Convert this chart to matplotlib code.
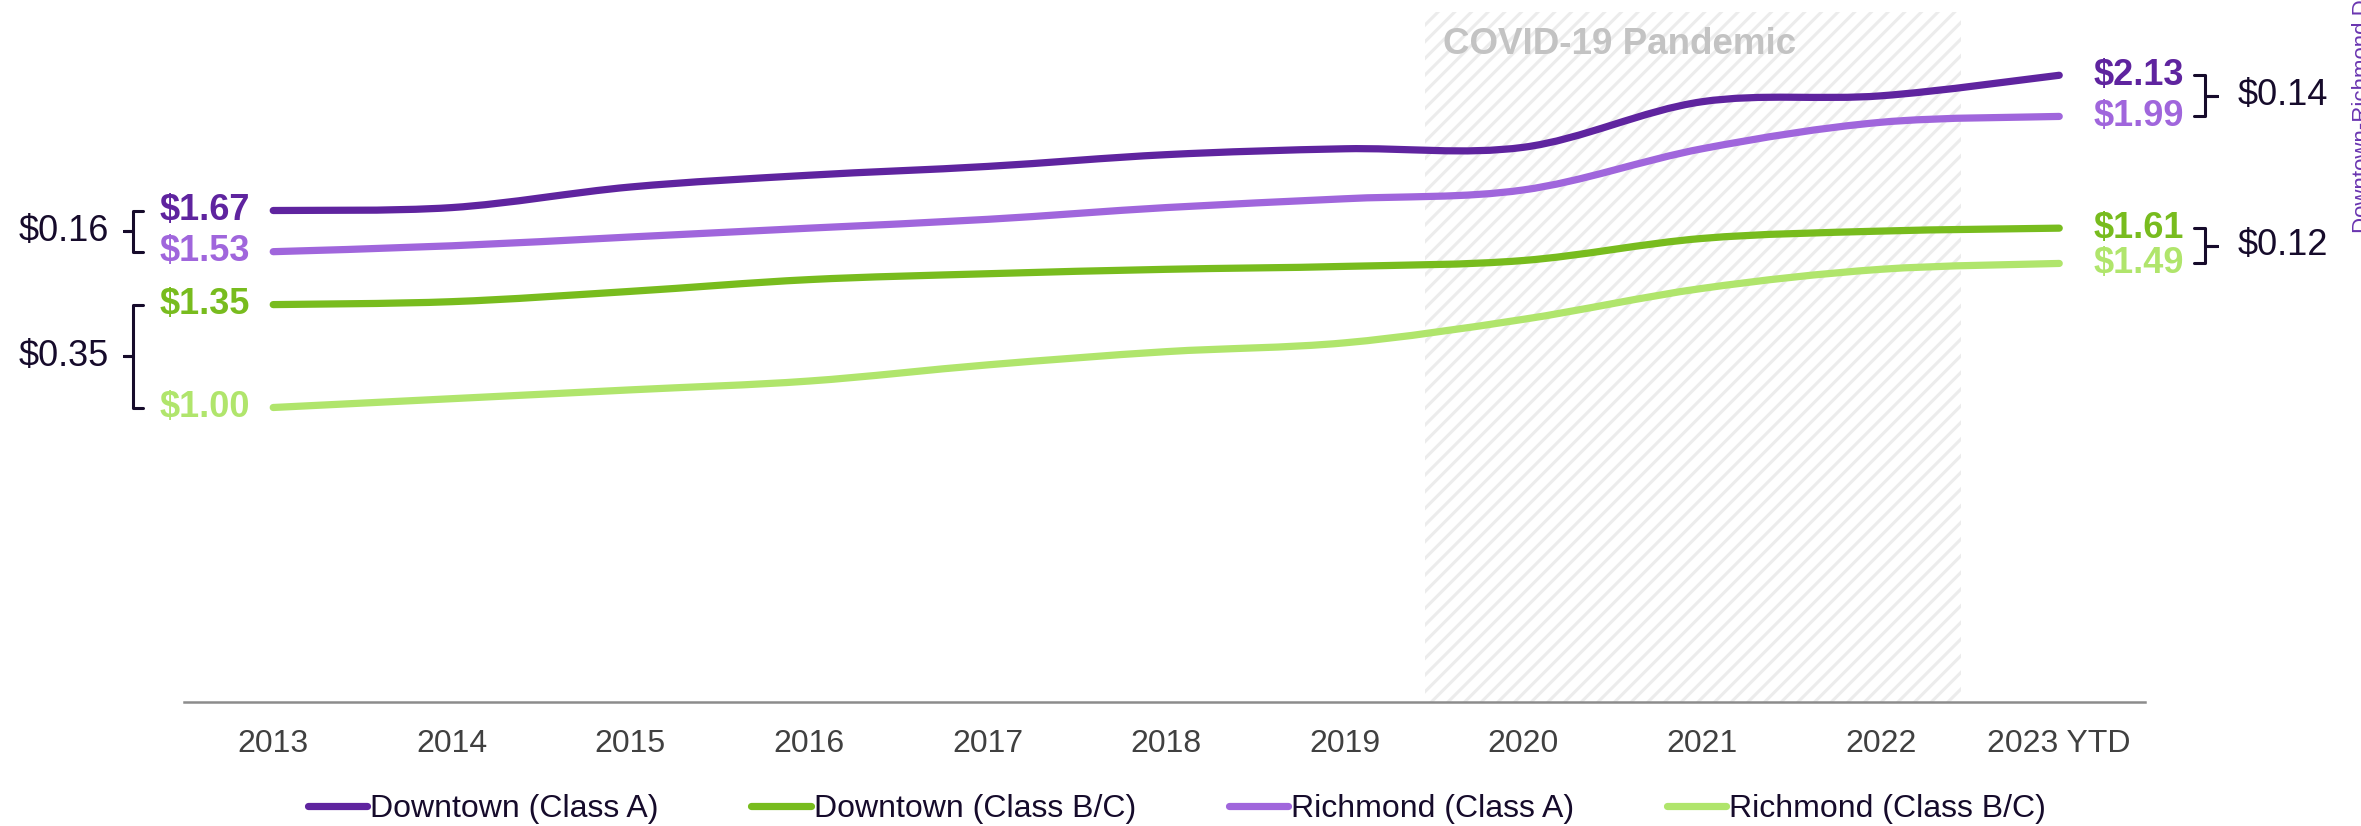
import matplotlib
matplotlib.use("Agg")
import matplotlib.pyplot as plt
from matplotlib.path import Path
from matplotlib.patches import PathPatch
from matplotlib.lines import Line2D

plt.rcParams["font.family"] = ["Liberation Sans", "DejaVu Sans"]
plt.rcParams["hatch.linewidth"] = 2.2

# --- data ---
years = ["2013", "2014", "2015", "2016", "2017", "2018", "2019", "2020", "2021", "2022", "2023 YTD"]
downtown_a = [1.67, 1.68, 1.75, 1.79, 1.82, 1.86, 1.88, 1.885, 2.04, 2.06, 2.13]
downtown_bc = [1.35, 1.36, 1.395, 1.435, 1.455, 1.47, 1.48, 1.50, 1.575, 1.60, 1.61]
richmond_a = [1.53, 1.55, 1.58, 1.61, 1.64, 1.68, 1.71, 1.74, 1.88, 1.97, 1.99]
richmond_bc = [1.00, 1.03, 1.06, 1.09, 1.145, 1.19, 1.22, 1.30, 1.405, 1.47, 1.49]
series_names = ["Downtown (Class A)", "Downtown (Class B/C)", "Richmond (Class A)", "Richmond (Class B/C)"]
gap_start = ["$0.16", "$0.35"]
gap_end = ["$0.14", "$0.12"]

colors = {
    "Downtown (Class A)": "#5f249f",
    "Downtown (Class B/C)": "#78bc1e",
    "Richmond (Class A)": "#a066dc",
    "Richmond (Class B/C)": "#b0e56c",
}
dark = "#160b2b"


def smooth_path(xs, ys):
    # smooth line through the points (cubic bezier, catmull-rom style)
    n = len(xs)
    verts = [(xs[0], ys[0])]
    codes = [Path.MOVETO]
    for i in range(n - 1):
        a = i - 1 if i > 0 else i
        b = i + 2 if i + 2 < n else i + 1
        c1 = (xs[i] + (xs[i + 1] - xs[a]) / 6, ys[i] + (ys[i + 1] - ys[a]) / 6)
        c2 = (xs[i + 1] - (xs[b] - xs[i]) / 6, ys[i + 1] - (ys[b] - ys[i]) / 6)
        verts += [c1, c2, (xs[i + 1], ys[i + 1])]
        codes += [Path.CURVE4] * 3
    return Path(verts, codes)


def bracket(ax, x, top, bottom, hook, tick):
    mid = (top + bottom) / 2
    ax.plot([x + hook, x, x, x + tick, x, x, x + hook],
            [top, top, mid, mid, mid, bottom, bottom],
            color=dark, lw=2.2, solid_joinstyle="round", solid_capstyle="round", clip_on=False)


fig = plt.figure(figsize=(23.61, 8.26), dpi=100)
ax = fig.add_axes([0.0779, 0.1507, 0.8306, 0.8493])
x = list(range(len(years)))

# COVID band
ax.axvspan(6.45, 9.45, ymin=0, ymax=2.345 / 2.386, facecolor="white",
           edgecolor="#ececec", hatch="//", linewidth=0, zorder=0)
ax.text(6.55, 2.233, "COVID-19 Pandemic", fontsize=26.5, fontweight="bold",
        color="#c3c3c3", va="center", ha="left", zorder=1)

all_series = [downtown_a, downtown_bc, richmond_a, richmond_bc]
for name, vals in zip(series_names, all_series):
    ax.add_patch(PathPatch(smooth_path(x, vals), facecolor="none", edgecolor=colors[name],
                           lw=5.2, capstyle="round", zorder=3))

# value labels at both ends
for name, vals in zip(series_names, all_series):
    ax.text(-0.13, vals[0], f"${vals[0]:.2f}", color=colors[name], fontsize=26,
            fontweight="bold", ha="right", va="center")
    ax.text(10.19, vals[-1], f"${vals[-1]:.2f}", color=colors[name], fontsize=26,
            fontweight="bold", ha="left", va="center")

# gap brackets, left side
bracket(ax, -0.783, downtown_a[0], richmond_a[0], 0.055, -0.055)
bracket(ax, -0.783, downtown_bc[0], richmond_bc[0], 0.055, -0.055)
ax.text(-0.92, (downtown_a[0] + richmond_a[0]) / 2, gap_start[0], fontsize=26,
        color=dark, ha="right", va="center")
ax.text(-0.92, (downtown_bc[0] + richmond_bc[0]) / 2, gap_start[1], fontsize=26,
        color=dark, ha="right", va="center")

# gap brackets, right side
bracket(ax, 10.814, downtown_a[-1], richmond_a[-1], -0.06, 0.07)
bracket(ax, 10.814, downtown_bc[-1], richmond_bc[-1], -0.06, 0.07)
ax.text(11.0, (downtown_a[-1] + richmond_a[-1]) / 2, gap_end[0], fontsize=26,
        color=dark, ha="left", va="center")
ax.text(11.0, (downtown_bc[-1] + richmond_bc[-1]) / 2, gap_end[1], fontsize=26,
        color=dark, ha="left", va="center")

ax.set_xlim(-0.5, 10.48)
ax.set_ylim(0, 2.386)
ax.set_xticks(x)
ax.set_xticklabels(years, fontsize=23, color="#404040")
ax.tick_params(axis="x", length=0, pad=20)
ax.set_yticks([])
for side in ["left", "right", "top"]:
    ax.spines[side].set_visible(False)
ax.spines["bottom"].set_color("#8c8c8c")
ax.spines["bottom"].set_linewidth(1.8)

# vertical note at the right edge, cut off by the figure edge as in the original
fig.text(2352 / 2361, 1 - 233 / 826, "Downtown-Richmond Difference", rotation=90,
         fontsize=16, color="#6a35b0", ha="left", va="bottom")

handles = [Line2D([0], [0], color=colors[n], lw=5.2, solid_capstyle="round") for n in series_names]
fig.legend(handles, series_names, loc="center", bbox_to_anchor=(0.4985, 0.0206), ncol=4,
           frameon=False, fontsize=23, handlelength=1.85, handletextpad=0.1,
           columnspacing=2.9, labelcolor=dark)

fig.savefig("out.png", dpi=100)
